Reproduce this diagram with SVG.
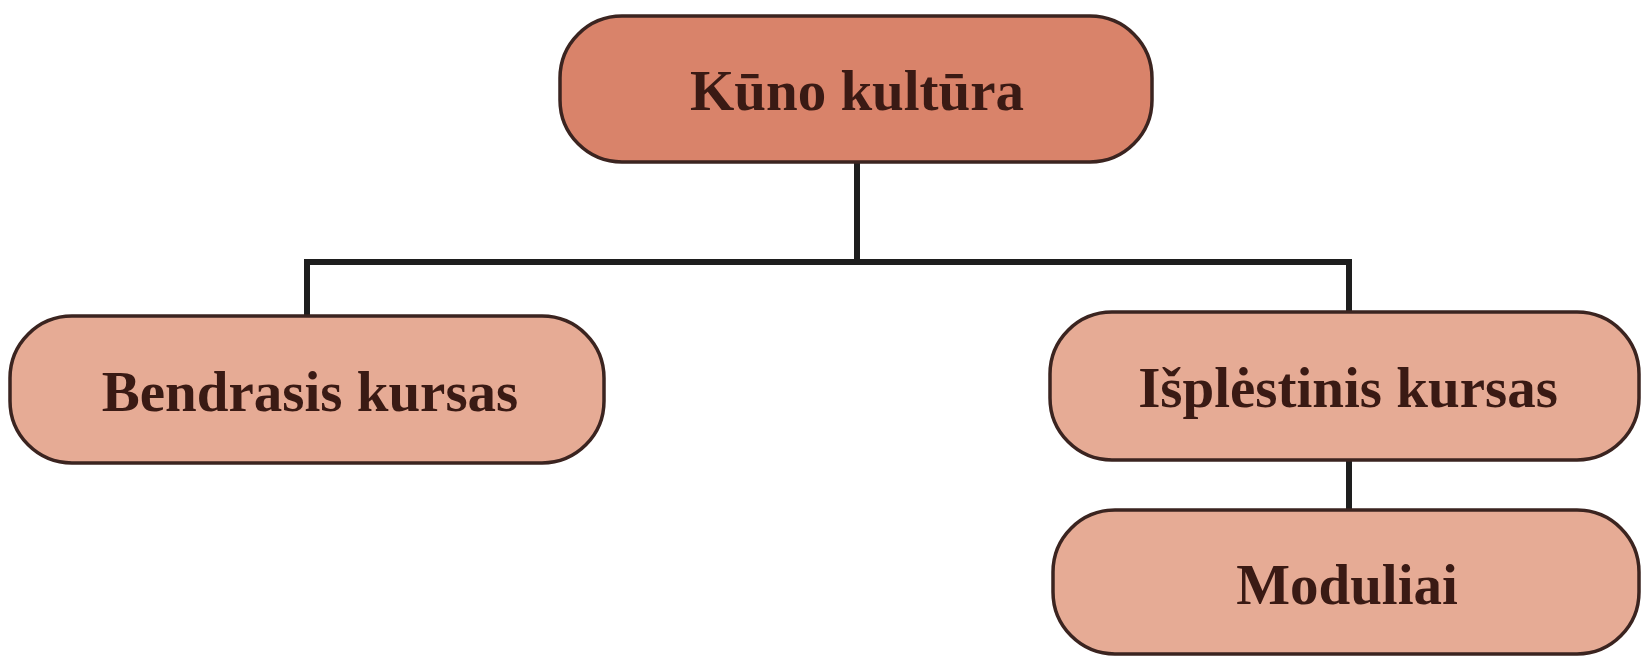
<svg xmlns="http://www.w3.org/2000/svg" width="1642" height="656" viewBox="0 0 1642 656">
<style>
.box{stroke:#3b2420;stroke-width:3.5}
.top{fill:#d9836a}
.child{fill:#e6ab95}
.lbl{font-family:"Liberation Serif","Times New Roman",serif;font-weight:bold;font-size:57px;fill:#3a1a14;text-anchor:middle;dominant-baseline:central}
.conn{fill:none;stroke:#1e1e1e;stroke-width:6}
</style>
<rect width="1642" height="656" fill="#ffffff"/>
<g id="connectors">
<path class="conn" d="M857 162 V262 M307 316 V262 H1349 V312 M1349 461 V510"/>
</g>
<g id="node-kuno">
<rect class="box top" x="560" y="16" width="592" height="146" rx="62"/>
<text class="lbl" x="857" y="90">Kūno kultūra</text>
</g>
<g id="node-bendrasis">
<rect class="box child" x="10" y="316" width="594" height="147" rx="62"/>
<text class="lbl" x="310" y="391">Bendrasis kursas</text>
</g>
<g id="node-isplestinis">
<rect class="box child" x="1050" y="312" width="589" height="148" rx="62"/>
<text class="lbl" x="1348" y="387">Išplėstinis kursas</text>
</g>
<g id="node-moduliai">
<rect class="box child" x="1053" y="510" width="586" height="144" rx="62"/>
<text class="lbl" x="1347" y="584">Moduliai</text>
</g>
</svg>
